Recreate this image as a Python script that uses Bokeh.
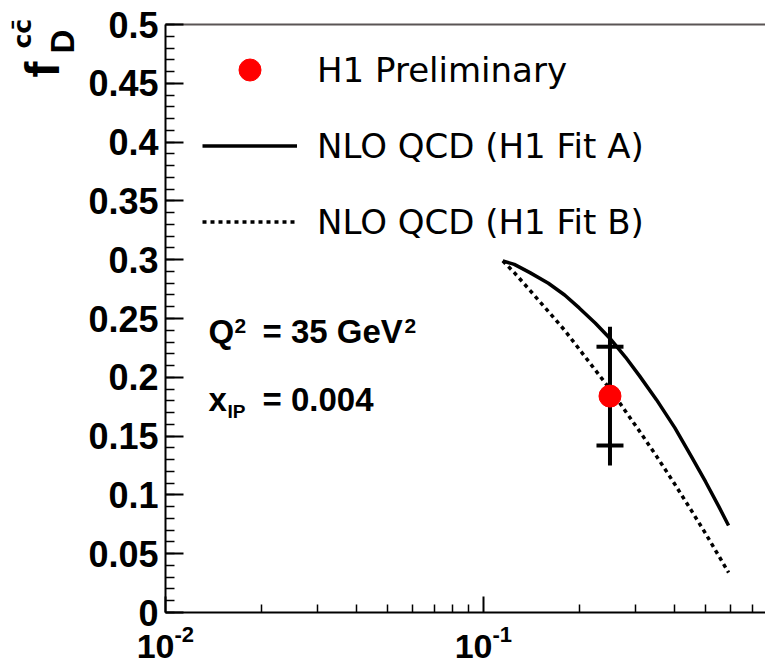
import numpy as np
from math import pi, log10

from bokeh.plotting import figure
from bokeh.models import (Range1d, FixedTicker, SingleIntervalTicker, NumeralTickFormatter,
                          Label, Legend, LegendItem, LinearAxis, LogAxis)
from bokeh.embed import file_html
from bokeh.resources import INLINE

# H1 preliminary measurement of f_D^{cc} (Q^2 = 35 GeV^2, x_IP = 0.004)
meas_x = [0.25]
meas_y = [0.184]
meas_err_inner = [0.042]
meas_err_total = [0.059]

# NLO QCD predictions
fit_x = [0.115, 0.125, 0.14, 0.16, 0.18, 0.20, 0.225, 0.25, 0.28, 0.31,
         0.35, 0.40, 0.45, 0.50, 0.55, 0.59]
fit_a = [0.299, 0.296, 0.289, 0.280, 0.270, 0.259, 0.246, 0.233, 0.217, 0.201,
         0.181, 0.157, 0.133, 0.111, 0.090, 0.074]
fit_b = [0.299, 0.289, 0.274, 0.256, 0.240, 0.224, 0.206, 0.190, 0.171, 0.154,
         0.133, 0.109, 0.087, 0.067, 0.048, 0.034]

# x axis ticks
xtick_vals = [0.01, 0.1]
xtick_base = ["10", "10"]
xtick_exp = ["-2", "-1"]
xtick_minor = [0.02, 0.03, 0.04, 0.05, 0.06, 0.07, 0.08, 0.09,
               0.2, 0.3, 0.4, 0.5, 0.6, 0.7]

legend_labels = ["H1 Preliminary", "NLO QCD (H1 Fit A)", "NLO QCD (H1 Fit B)"]

# axis frame in data units and its placement on the canvas (pixels)
X0, X1 = 0.01, 0.771
Y0, Y1 = 0.0, 0.5
W, H = 765, 660
FRAME_L, FRAME_T, FRAME_B = 165, 24, 612
MID = 0.35  # height of the em-box middle above the baseline, in em

# the plotting area covers the whole canvas; axes sit at fixed locations
decade_px = (W - FRAME_L) / log10(X1 / X0)
x_start = X0 * 10 ** (-FRAME_L / decade_px)
y_per_px = (Y1 - Y0) / (FRAME_B - FRAME_T)
y_start = Y0 - (H - FRAME_B) * y_per_px
y_end = Y1 + FRAME_T * y_per_px

p = figure(width=W, height=H, x_axis_type="log",
           x_axis_location=None, y_axis_location=None,
           x_range=Range1d(x_start, X1), y_range=Range1d(y_start, y_end),
           output_backend="svg", toolbar_location=None,
           min_border=0, min_border_left=0, min_border_right=0,
           min_border_top=0, min_border_bottom=0)
p.grid.visible = False
p.outline_line_color = None
p.background_fill_color = "white"
p.border_fill_color = "white"

# y axis
ya = LinearAxis(fixed_location=X0, bounds=(Y0, Y1),
                ticker=SingleIntervalTicker(interval=0.05, num_minor_ticks=5),
                formatter=NumeralTickFormatter(format="0.[00]"))
ya.axis_line_width = 2
ya.major_tick_in = 18
ya.major_tick_out = 0
ya.minor_tick_in = 9
ya.minor_tick_out = 0
ya.major_tick_line_width = 2
ya.minor_tick_line_width = 1.5
ya.major_label_standoff = 7
ya.major_label_text_font = "Liberation Sans"
ya.major_label_text_font_style = "bold"
ya.major_label_text_font_size = "36px"
ya.major_label_text_color = "black"
p.add_layout(ya, "left")

# x axis (labels drawn separately with raised exponents)
xa = LogAxis(fixed_location=Y0, bounds=(X0, X1),
             ticker=FixedTicker(ticks=xtick_vals, minor_ticks=xtick_minor))
xa.axis_line_width = 2
xa.major_tick_in = 16
xa.major_tick_out = 0
xa.minor_tick_in = 8
xa.minor_tick_out = 0
xa.major_tick_line_width = 2
xa.minor_tick_line_width = 1.5
xa.major_label_text_font_size = "10px"
xa.major_label_text_alpha = 0
xa.major_label_standoff = 0
p.add_layout(xa, "below")

# top edge of the frame
p.segment(x0=[X0], y0=[Y1], x1=[X1], y1=[Y1], line_color="#5a5555", line_width=2)

for xv, base, ex in zip(xtick_vals, xtick_base, xtick_exp):
    p.add_layout(Label(x=xv, y=Y0, x_offset=9, y_offset=-(658 - MID * 34 - FRAME_B),
                       text=base, text_font="Liberation Sans", text_font_style="bold",
                       text_font_size="34px", text_align="right",
                       text_baseline="middle", text_color="black"))
    p.add_layout(Label(x=xv, y=Y0, x_offset=9, y_offset=-(642 - MID * 22 - FRAME_B),
                       text=ex, text_font="Liberation Sans", text_font_style="bold",
                       text_font_size="22px", text_align="left",
                       text_baseline="middle", text_color="black"))


def label_at(text, sx, sy, size, font, angle):
    p.add_layout(Label(x=X0, y=Y1, x_offset=sx - FRAME_L, y_offset=FRAME_T - sy, text=text,
                       text_font=font, text_font_style="bold",
                       text_font_size=f"{size}px", text_align="left",
                       text_baseline="middle", angle=angle, text_color="black"))


def put(text, px, base, size, font="Liberation Sans"):
    """Horizontal text starting at canvas pixel px with its baseline on row `base`."""
    label_at(text, px, base - MID * size, size, font, 0.0)


def put_up(text, mid, start, size, font="Liberation Sans"):
    """Text read bottom to top, centred on column `mid`, starting at row `start`."""
    label_at(text, mid, start, size, font, pi / 2)


# y axis title  f_D^{c cbar}
put_up("f", 42, 77, 48)
put_up("D", 62, 53, 33)
put_up("cc\u0304", 22, 48, 25, font="DejaVu Sans")

# kinematic point
put("Q", 208, 343, 33)
put("2", 234, 333, 21)
put("= 35 GeV", 262, 343, 33)
put("2", 404, 333, 21)
put("x", 208, 411, 33)
put("IP", 227, 418, 19)
put("= 0.004", 262, 411, 33)

# theory curves
line_a = p.line(fit_x, fit_a, line_color="black", line_width=3.5)
line_b = p.line(fit_x, fit_b, line_color="black", line_width=3.5, line_dash="4 4")

# data point with error bars
mx = np.array(meas_x)
my = np.array(meas_y)
ein = np.array(meas_err_inner)
etot = np.array(meas_err_total)
p.segment(x0=mx, y0=my - etot, x1=mx, y1=my + etot, line_color="black", line_width=4)
p.scatter(np.concatenate([mx, mx]), np.concatenate([my - ein, my + ein]),
          marker="dash", size=27, line_color="black", line_width=4)
pt = p.scatter(mx, my, marker="circle", size=22, fill_color="red", line_color="red")

legend = Legend(items=[LegendItem(label=legend_labels[0], renderers=[pt]),
                       LegendItem(label=legend_labels[1], renderers=[line_a]),
                       LegendItem(label=legend_labels[2], renderers=[line_b])],
                location=(202, 411), glyph_width=95, glyph_height=55, label_height=55,
                spacing=21, padding=0, margin=0, label_standoff=20,
                border_line_color=None, background_fill_alpha=0,
                label_text_font="DejaVu Sans", label_text_font_size="34px",
                label_text_color="black")
p.add_layout(legend)

open("out.html", "w").write(file_html(p, INLINE))
